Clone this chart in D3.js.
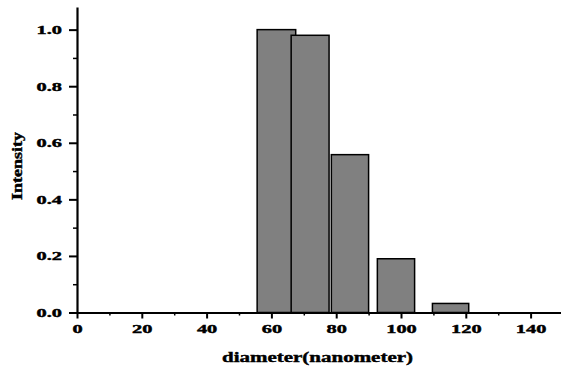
<!DOCTYPE html>
<html>
<head>
<meta charset="utf-8">
<script src="https://cdn.jsdelivr.net/npm/d3@7"></script>
<style>
  body { margin: 0; background: #fff; }
  text { font-family: "Liberation Serif", "Times New Roman", serif; font-weight: bold; fill: #000; stroke: #000; stroke-width: 0.4px; }
</style>
</head>
<body>
<div id="chart"></div>
<script>
// histogram bins
const binStart = [55.6, 66.1, 78.5, 92.7, 109.7];
const binEnd = [67.5, 77.8, 90.0, 104.2, 120.9];
const intensity = [1.0, 0.98, 0.558, 0.19, 0.032];

const xTicks = [0, 20, 40, 60, 80, 100, 120, 140];
const xMinor = [10, 30, 50, 70, 90, 110, 130, 150];
const yTicks = [0, 0.2, 0.4, 0.6, 0.8, 1.0];
const yMinor = [0.1, 0.3, 0.5, 0.7, 0.9];

const width = 561, height = 368;
const margin = {top: 7, right: 0, bottom: 55, left: 77};

const svg = d3.select("#chart").append("svg")
    .attr("width", width)
    .attr("height", height);

const x = d3.scaleLinear().domain([0, 150]).range([margin.left, margin.left + 486]);
const y = d3.scaleLinear().domain([0, 1.08]).range([height - margin.bottom - 0.5, margin.top]);

const bins = binStart.map((s, i) => ({s: s, e: binEnd[i], v: intensity[i]}));

svg.append("g")
    .selectAll("rect")
    .data(bins)
    .enter().append("rect")
    .attr("x", d => x(d.s))
    .attr("width", d => x(d.e) - x(d.s))
    .attr("y", d => y(d.v))
    .attr("height", d => y(0) - y(d.v))
    .style("fill", "#808080")
    .style("stroke", "#000")
    .style("stroke-width", 1.5);

// minor ticks
svg.append("g")
    .attr("transform", "translate(0," + y(0) + ")")
    .call(d3.axisBottom(x).tickValues(xMinor).tickSize(3).tickFormat(""))
    .call(g => g.select(".domain").remove())
    .selectAll("line").style("stroke-width", 1.5);

svg.append("g")
    .attr("transform", "translate(" + x(0) + ",0)")
    .call(d3.axisLeft(y).tickValues(yMinor).tickSize(4).tickFormat(""))
    .call(g => g.select(".domain").remove())
    .selectAll("line").style("stroke-width", 1.5);

// x axis
const xAxis = svg.append("g")
    .attr("transform", "translate(0," + y(0) + ")")
    .call(d3.axisBottom(x).tickValues(xTicks).tickSize(6).tickSizeOuter(0).tickFormat(d3.format("d")));
xAxis.select(".domain").style("stroke-width", 2.2);
xAxis.selectAll("line").style("stroke-width", 2);
xAxis.selectAll("text")
    .attr("y", 21)
    .attr("dy", null)
    .style("font-size", "12px")
    .attr("transform", "scale(1.7,1)");

// y axis
const yAxis = svg.append("g")
    .attr("transform", "translate(" + x(0) + ",0)")
    .call(d3.axisLeft(y).tickValues(yTicks).tickSize(8).tickSizeOuter(0).tickFormat(d3.format(".1f")));
yAxis.select(".domain").style("stroke-width", 2.2);
yAxis.selectAll("line").style("stroke-width", 2);
yAxis.selectAll("text")
    .attr("x", -15 / 1.7)
    .style("font-size", "12px")
    .attr("transform", "scale(1.7,1)");

// titles
svg.append("text")
    .attr("x", 222)
    .attr("y", 362)
    .attr("textLength", 191)
    .attr("lengthAdjust", "spacingAndGlyphs")
    .style("font-size", "14px")
    .text("diameter(nanometer)");

svg.append("text")
    .attr("transform", "translate(22,200) rotate(-90)")
    .attr("textLength", 68)
    .attr("lengthAdjust", "spacingAndGlyphs")
    .style("font-size", "14px")
    .text("Intensity");
</script>
</body>
</html>
